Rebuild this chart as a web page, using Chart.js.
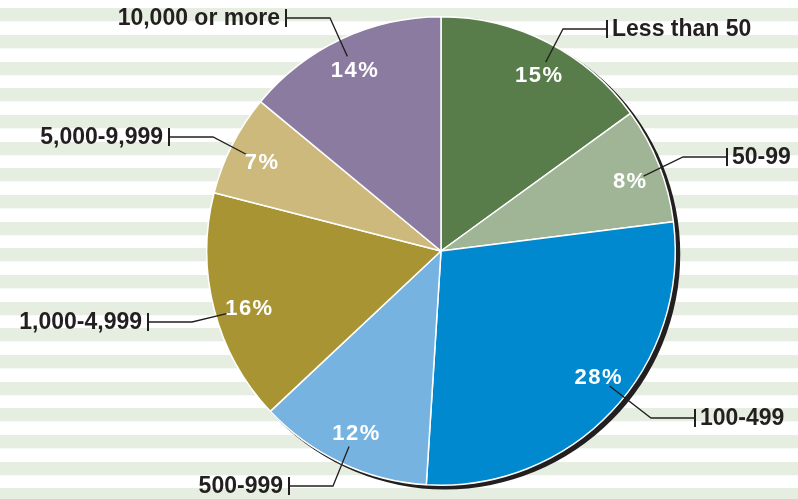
<!DOCTYPE html>
<html lang="en">
<head>
<meta charset="UTF-8">
<title>Share by size</title>
<script src="https://cdn.jsdelivr.net/npm/chart.js"></script>
<style>
  html, body { margin: 0; padding: 0; background: #fff; }
  #wrap { width: 798px; height: 499px; }
</style>
</head>
<body>
<div id="wrap"><canvas id="pie" width="798" height="499"></canvas></div>
<script>
const categories = ['Less than 50', '50-99', '100-499', '500-999', '1,000-4,999', '5,000-9,999', '10,000 or more'];
const shares = [15, 8, 28, 12, 16, 7, 14];
const sliceColors = ['#587d4b', '#a0b595', '#0089cf', '#77b3e1', '#a89433', '#cdb97b', '#8c7ba0'];

// callout layout: tick bar position for each category name, and a small nudge (deg) of the % label off the slice middle
const calloutBars = [[607, 29], [727, 157], [695, 418], [289, 486], [148, 322], [169, 137], [286, 18]];
const labelNudge = [2, 1.3, -4.5, 0, -2, -0.6, -0.5];

const ink = '#231f20';

const decor = {
    id: 'decor',
    beforeDraw(chart) {
        const ctx = chart.ctx;
        ctx.save();
        ctx.fillStyle = '#fff';
        ctx.fillRect(0, 0, chart.width, chart.height);
        ctx.fillStyle = '#e6eee1';
        const step = 26.67;
        for (let y = 8.3; y < chart.height; y += step) {
            ctx.fillRect(0, Math.round(y), chart.width, 13.3);
        }
        ctx.restore();
    },
    beforeDatasetsDraw(chart) {
        // dark drop edge behind the pie
        const arc = chart.getDatasetMeta(0).data[0];
        const ctx = chart.ctx;
        ctx.save();
        ctx.fillStyle = ink;
        ctx.beginPath();
        ctx.arc(arc.x + 4, arc.y + 3.2, arc.outerRadius + 1, 0, Math.PI * 2);
        ctx.fill();
        ctx.restore();
    },
    afterDatasetsDraw(chart) {
        const ctx = chart.ctx;
        const arcs = chart.getDatasetMeta(0).data;
        ctx.save();
        ctx.textBaseline = 'middle';
        arcs.forEach((arc, i) => {
            const mid = (arc.startAngle + arc.endAngle) / 2 + labelNudge[i] * Math.PI / 180;
            const R = arc.outerRadius;
            const lx = arc.x + Math.cos(mid) * R * 0.857;
            const ly = arc.y + Math.sin(mid) * R * 0.857;
            const tx = arc.x + Math.cos(mid) * R * 0.922;
            const ty = arc.y + Math.sin(mid) * R * 0.922;
            const [bx, by] = calloutBars[i];
            const right = bx > arc.x;
            const ex = right ? bx - 44 : bx + 44;

            // leader line
            ctx.strokeStyle = ink;
            ctx.lineWidth = 1.3;
            ctx.beginPath();
            ctx.moveTo(tx, ty);
            ctx.lineTo(ex, by);
            ctx.lineTo(bx, by);
            ctx.stroke();
            // tick bar
            ctx.fillStyle = ink;
            ctx.fillRect(bx - 1, by - 9, 2, 18);

            // category name
            ctx.font = 'bold 23px "Liberation Sans", Arial, sans-serif';
            ctx.letterSpacing = '0px';
            ctx.textAlign = right ? 'left' : 'right';
            ctx.fillText(categories[i], right ? bx + 5 : bx - 6, by + 1);

            // percentage
            ctx.font = 'bold 22px "Liberation Sans", Arial, sans-serif';
            ctx.letterSpacing = '1.5px';
            ctx.fillStyle = '#fff';
            ctx.textAlign = 'center';
            ctx.fillText(shares[i] + '%', lx + 1, ly + 1);
        });
        ctx.restore();
    }
};

new Chart(document.getElementById('pie'), {
    type: 'pie',
    data: {
        labels: categories,
        datasets: [{
            data: shares,
            backgroundColor: sliceColors,
            borderColor: '#ffffff',
            borderWidth: 1.5
        }]
    },
    options: {
        responsive: false,
        animation: false,
        events: [],
        layout: { padding: { left: 206, right: 122, top: 16, bottom: 13 } },
        plugins: {
            legend: { display: false },
            tooltip: { enabled: false }
        }
    },
    plugins: [decor]
});
</script>
</body>
</html>
